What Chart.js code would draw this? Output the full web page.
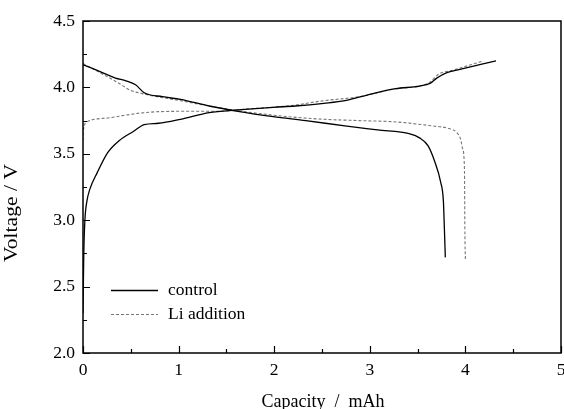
<!DOCTYPE html>
<html>
<head>
<meta charset="utf-8">
<script src="https://cdn.jsdelivr.net/npm/chart.js@4/dist/chart.umd.min.js"></script>
<style>
  html, body { margin: 0; padding: 0; background: #fff; }
  #wrap { width: 564px; height: 409px; }
</style>
</head>
<body>
<div id="wrap"><canvas id="voltageChart"></canvas></div>
<script>
// ===================================
// DATA
// ===================================
const controlChargeCap = [0, 0.008, 0.02, 0.04, 0.07, 0.15, 0.26, 0.38, 0.53, 0.64, 0.79, 1.02, 1.32, 1.62, 1.99, 2.22, 2.52, 2.74, 3.01, 3.27, 3.52, 3.63, 3.70, 3.80, 3.91, 4.32];
const controlChargeV   = [2.30, 2.74, 3.00, 3.14, 3.23, 3.36, 3.51, 3.60, 3.67, 3.72, 3.73, 3.76, 3.81, 3.83, 3.85, 3.86, 3.88, 3.90, 3.95, 3.99, 4.01, 4.03, 4.07, 4.11, 4.13, 4.20];

const controlDischargeCap = [0, 0.11, 0.34, 0.45, 0.55, 0.64, 0.83, 1.02, 1.32, 1.62, 1.99, 2.33, 2.74, 3.08, 3.42, 3.52, 3.61, 3.68, 3.74, 3.77, 3.78, 3.79];
const controlDischargeV   = [4.17, 4.14, 4.07, 4.05, 4.02, 3.96, 3.93, 3.91, 3.86, 3.82, 3.78, 3.75, 3.71, 3.68, 3.65, 3.62, 3.56, 3.44, 3.29, 3.14, 2.94, 2.72];

const liChargeCap = [0, 0.005, 0.04, 0.26, 0.64, 1.02, 1.39, 1.77, 2.14, 2.52, 2.89, 3.27, 3.52, 3.63, 3.72, 3.87, 4.19];
const liChargeV   = [3.60, 3.68, 3.74, 3.77, 3.81, 3.82, 3.82, 3.84, 3.86, 3.90, 3.93, 3.99, 4.01, 4.04, 4.10, 4.13, 4.20];

const liDischargeCap = [0, 0.23, 0.38, 0.49, 0.64, 1.02, 1.39, 1.77, 2.14, 2.52, 2.89, 3.27, 3.65, 3.83, 3.91, 3.95, 3.97, 3.99, 3.995, 4.0];
const liDischargeV   = [4.18, 4.09, 4.03, 3.98, 3.95, 3.90, 3.85, 3.81, 3.78, 3.76, 3.75, 3.74, 3.71, 3.69, 3.66, 3.61, 3.54, 3.39, 2.89, 2.70];

const seriesNames = ['control', 'Li addition'];
const xTickLabels = ['0', '1', '2', '3', '4', '5'];
const yTickLabels = ['2.0', '2.5', '3.0', '3.5', '4.0', '4.5'];

const toPoints = (xs, ys) => xs.map((x, i) => ({ x: x, y: ys[i] }));

const FONT = '"Liberation Serif", "Times New Roman", serif';
const solidStyle = { borderColor: '#000', borderWidth: 1.3, borderDash: [] };
const dashStyle  = { borderColor: '#777', borderWidth: 1.1, borderDash: [3, 2] };

// ===================================
// FRAME, INWARD TICKS, TITLES, LEGEND
// ===================================
const decorPlugin = {
    id: 'decor',
    afterDraw(chart) {
        const { ctx, chartArea: a, scales } = chart;
        ctx.save();
        ctx.strokeStyle = '#000';
        ctx.lineWidth = 1.5;
        ctx.strokeRect(a.left, a.top, a.right - a.left, a.bottom - a.top);

        ctx.lineWidth = 1.2;
        ctx.beginPath();
        for (let v = 0; v <= 5.001; v += 0.5) {
            const px = Math.round(scales.x.getPixelForValue(v)) + 0.5;
            const len = Math.abs(v - Math.round(v)) < 1e-6 ? 7 : 4;
            ctx.moveTo(px, a.bottom);
            ctx.lineTo(px, a.bottom - len);
        }
        for (let v = 2; v <= 4.501; v += 0.25) {
            const py = Math.round(scales.y.getPixelForValue(v)) + 0.5;
            const len = Math.abs(v * 2 - Math.round(v * 2)) < 1e-6 ? 7 : 4;
            ctx.moveTo(a.left, py);
            ctx.lineTo(a.left + len, py);
        }
        ctx.stroke();

        // axis titles
        ctx.fillStyle = '#000';
        ctx.font = '18px ' + FONT;
        ctx.textAlign = 'center';
        ctx.textBaseline = 'alphabetic';
        ctx.fillText('Capacity  /  mAh', 323, 407);

        ctx.save();
        ctx.translate(17, 213);
        ctx.rotate(-Math.PI / 2);
        ctx.scale(1.2, 1);
        ctx.fillText('Voltage / V', 0, 0);
        ctx.restore();

        // legend
        const rows = [
            { label: seriesNames[0], style: solidStyle, y: 290 },
            { label: seriesNames[1], style: dashStyle, y: 314 }
        ];
        rows.forEach(r => {
            ctx.beginPath();
            ctx.strokeStyle = r.style.borderColor;
            ctx.lineWidth = r.style.borderWidth;
            ctx.setLineDash(r.style.borderDash);
            ctx.moveTo(111, r.y + 0.5);
            ctx.lineTo(158, r.y + 0.5);
            ctx.stroke();
            ctx.setLineDash([]);
            ctx.textAlign = 'left';
            ctx.textBaseline = 'middle';
            ctx.font = '17.5px ' + FONT;
            ctx.fillStyle = '#000';
            ctx.fillText(r.label, 168, r.y);
        });
        ctx.restore();
    }
};

// ===================================
// CHART
// ===================================
const lineDefaults = {
    showLine: true,
    pointRadius: 0,
    fill: false,
    cubicInterpolationMode: 'monotone'
};

new Chart(document.getElementById('voltageChart'), {
    type: 'scatter',
    data: {
        datasets: [
            { label: seriesNames[0], data: toPoints(controlChargeCap, controlChargeV), ...lineDefaults, ...solidStyle },
            { label: seriesNames[0], data: toPoints(controlDischargeCap, controlDischargeV), ...lineDefaults, ...solidStyle },
            { label: seriesNames[1], data: toPoints(liChargeCap, liChargeV), ...lineDefaults, ...dashStyle },
            { label: seriesNames[1], data: toPoints(liDischargeCap, liDischargeV), ...lineDefaults, ...dashStyle }
        ]
    },
    options: {
        responsive: true,
        maintainAspectRatio: false,
        animation: false,
        layout: { padding: { top: 21, right: 3, left: 0, bottom: 0 } },
        plugins: {
            legend: { display: false },
            tooltip: { enabled: false }
        },
        scales: {
            x: {
                type: 'linear',
                min: 0,
                max: 5,
                grid: { display: false, drawTicks: false },
                border: { display: false },
                ticks: {
                    stepSize: 1,
                    padding: 7,
                    color: '#000',
                    font: { family: FONT, size: 17.5 },
                    callback: (v) => xTickLabels[Math.round(v)] ?? ''
                },
                afterFit: (s) => { s.height = 56; s.paddingLeft = 0; s.paddingRight = 0; }
            },
            y: {
                type: 'linear',
                min: 2,
                max: 4.5,
                grid: { display: false, drawTicks: false },
                border: { display: false },
                ticks: {
                    stepSize: 0.5,
                    padding: 8,
                    color: '#000',
                    font: { family: FONT, size: 17.5 },
                    callback: (v) => yTickLabels[Math.round((v - 2) * 2)] ?? ''
                },
                afterFit: (s) => { s.width = 83; s.paddingTop = 0; s.paddingBottom = 0; }
            }
        }
    },
    plugins: [decorPlugin]
});
</script>
</body>
</html>
